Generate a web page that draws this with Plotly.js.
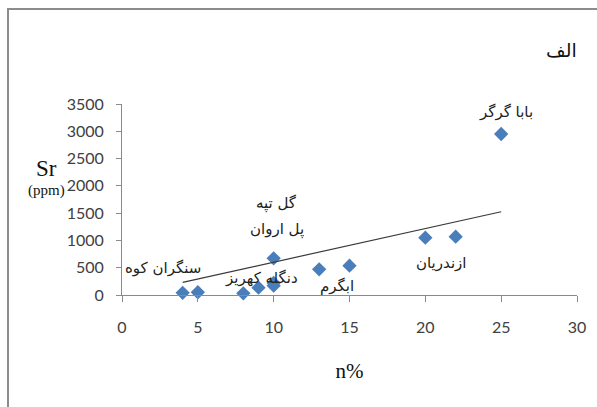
<!DOCTYPE html>
<html>
<head>
<meta charset="utf-8">
<script src="https://cdn.plot.ly/plotly-3.0.1.min.js"></script>
<style>
  html, body { margin: 0; padding: 0; background: #fff; }
  #wrap { position: relative; width: 597px; height: 407px; overflow: hidden; }
  #chart { position: absolute; left: 0; top: 0; width: 597px; height: 407px; }
  /* outer chart frame; its right and bottom edges fall outside the view */
  .edge { position: absolute; background: #8c8c8c; pointer-events: none; z-index: 5; }
  #edgeLeft { left: 7px; top: 8px; width: 2px; height: 420px; }
  #edgeTop  { left: 7px; top: 8px; width: 620px; height: 2px; }
</style>
</head>
<body>
<div id="wrap">
  <div id="chart"></div>
  <div class="edge" id="edgeLeft"></div>
  <div class="edge" id="edgeTop"></div>
</div>
<script>
// Sr (ppm) against n% for each sampled site
const nPercent = [4, 5, 8, 9, 10, 10, 10, 13, 15, 20, 22, 25];
const srPpm    = [40, 50, 30, 134, 170, 220, 672, 470, 537, 1050, 1068, 2950];

// linear trend line end points
const trendX = [4, 25];
const trendY = [232, 1526];

// site names and where they sit (in axis units)
const siteNames = ['بابا گرگر', 'گل تپه', 'پل اروان', 'سنگران کوه', 'دنگله کهریز', 'ابگرم', 'ازندریان'];
const siteX     = [25.3, 10.2, 10.2, 2.7, 9.2, 14.2, 21.0];
const siteY     = [3352, 1685, 1209, 500, 311, 165, 586];

const xTicks = [0, 5, 10, 15, 20, 25, 30];
const yTicks = [0, 500, 1000, 1500, 2000, 2500, 3000, 3500];

const tickFont = { family: 'Lato, "Open Sans", sans-serif', size: 16, color: '#404040' };
const labelFont = { family: '"DejaVu Sans", sans-serif', size: 15, color: '#222' };
const serif = 'Liberation Serif, "DejaVu Serif", serif';

// plot area in pixels, used to place free text in paper units
const PL = 122, PW = 455, PB = 295, PH = 191;
const px = v => (v - PL) / PW;
const py = v => (PB - v) / PH;

const data = [
  {
    type: 'scatter', mode: 'markers',
    x: nPercent, y: srPpm,
    marker: { symbol: 'diamond', size: 11, color: '#4A7EBB' },
    cliponaxis: false, hoverinfo: 'x+y'
  },
  {
    type: 'scatter', mode: 'lines',
    x: trendX, y: trendY,
    line: { color: '#3a3a3a', width: 1.2 },
    hoverinfo: 'skip'
  }
];

const annotations = siteNames.map((t, i) => ({
  x: siteX[i], y: siteY[i], xref: 'x', yref: 'y',
  xanchor: 'center', yanchor: 'middle',
  text: t, showarrow: false, font: labelFont
}));

annotations.push({
  x: px(561), y: py(50), xref: 'paper', yref: 'paper',
  xanchor: 'center', yanchor: 'middle',
  text: 'الف', showarrow: false,
  font: { family: '"DejaVu Sans", sans-serif', size: 19, color: '#111' }
});
annotations.push({
  x: px(46), y: py(168), xref: 'paper', yref: 'paper',
  xanchor: 'center', yanchor: 'middle',
  text: 'Sr', showarrow: false, font: { family: serif, size: 23, color: '#111' }
});
annotations.push({
  x: px(46), y: py(190), xref: 'paper', yref: 'paper',
  xanchor: 'center', yanchor: 'middle',
  text: '(ppm)', showarrow: false, font: { family: serif, size: 15, color: '#111' }
});

const layout = {
  width: 597, height: 407,
  margin: { l: 122, r: 20, t: 104, b: 112 },
  paper_bgcolor: 'rgba(0,0,0,0)', plot_bgcolor: 'rgba(0,0,0,0)',
  showlegend: false,
  xaxis: {
    range: [0, 30], tickvals: xTicks, ticktext: xTicks.map(String),
    showgrid: false, zeroline: false,
    showline: true, linecolor: '#8a8a8a', linewidth: 1,
    ticks: 'outside', ticklen: 6, tickcolor: '#8a8a8a',
    tickfont: tickFont, ticklabelstandoff: 12,
    title: { text: 'n%', font: { family: serif, size: 21, color: '#111' }, standoff: 28 }
  },
  yaxis: {
    range: [0, 3500], tickvals: yTicks, ticktext: yTicks.map(String),
    showgrid: false, zeroline: false,
    showline: true, linecolor: '#8a8a8a', linewidth: 1,
    ticks: 'outside', ticklen: 5, tickcolor: '#8a8a8a',
    tickfont: tickFont, ticklabelstandoff: 9
  },
  annotations: annotations
};

Plotly.newPlot('chart', data, layout, { displayModeBar: false, staticPlot: true });
</script>
</body>
</html>
